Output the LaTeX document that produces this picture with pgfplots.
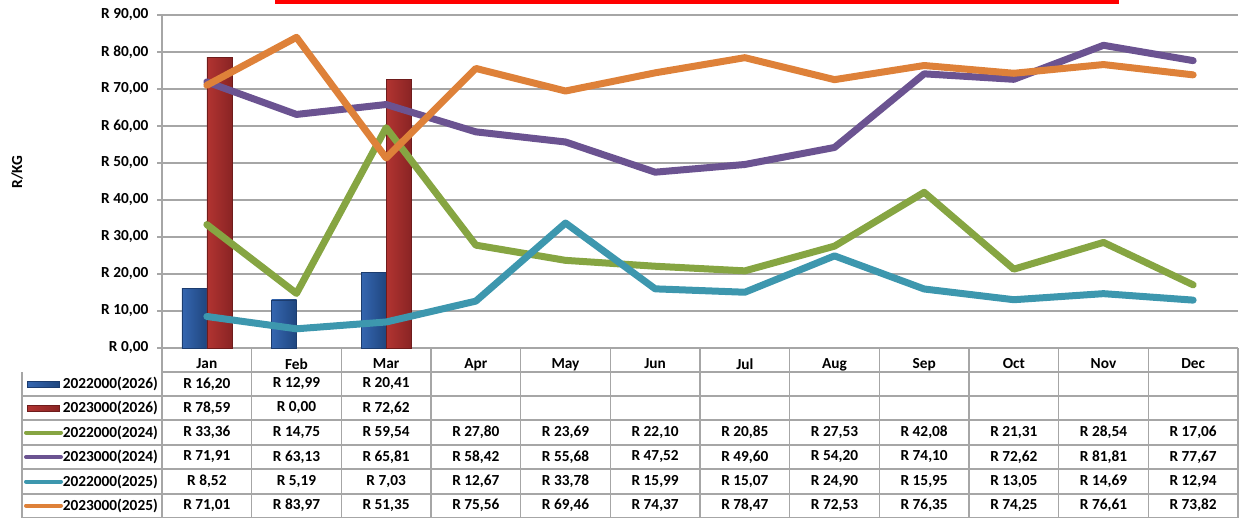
\documentclass[border=0pt]{standalone}
\usepackage{pgfplots}
\pgfplotsset{compat=1.18}
\usepackage{fontspec}
\setmainfont{Carlito}
\definecolor{cgreen}{HTML}{86A542}
\definecolor{cpurple}{HTML}{6B5391}
\definecolor{cteal}{HTML}{3D97AE}
\definecolor{corange}{HTML}{DE8139}
\definecolor{bluel}{HTML}{3566B0}
\definecolor{bluem}{HTML}{4A86D8}
\definecolor{bluer}{HTML}{1F467F}
\definecolor{blueo}{HTML}{1C3C6E}
\definecolor{redl}{HTML}{B23431}
\definecolor{redm}{HTML}{CF4843}
\definecolor{redr}{HTML}{8A2424}
\definecolor{redo}{HTML}{6E1C1C}
\definecolor{gridc}{HTML}{A6A6A6}
\newcommand{\tf}{\fontsize{11.5}{13}\selectfont\bfseries}
\begin{document}
\begin{tikzpicture}[font=\tf]
\useasboundingbox (0,0) rectangle (931.5pt,-388.5pt);
\begin{axis}[
  at={(121.5pt,-261pt)}, anchor=south west,
  width=807pt, height=249.75pt, scale only axis,
  xmin=-0.5, xmax=11.5, ymin=0, ymax=90,
  axis x line*=bottom, axis y line*=left,
  axis line style={draw=gridc, line width=0.8pt},
  ytick={0,10,...,90},
  yticklabels={{R 0,00},{R 10,00},{R 20,00},{R 30,00},{R 40,00},{R 50,00},{R 60,00},{R 70,00},{R 80,00},{R 90,00}},
  yticklabel style={font=\tf, xshift=-3pt},
  ymajorgrids, grid style={draw=gridc, line width=0.9pt},
  tick align=outside, major tick length=3.75pt,
  ytick style={draw=gridc, line width=0.8pt},
  xtick={0,...,11},
  xticklabels={Jan,Feb,Mar,Apr,May,Jun,Jul,Aug,Sep,Oct,Nov,Dec},
  xtick style={draw=none},
  xticklabel style={font=\tf, yshift=-0.5pt},
  ybar=0pt, bar width=18.75pt,
  clip=false,
  bluebar/.style={draw=blueo, line width=0.4pt, left color=bluel, middle color=bluem, right color=bluer, bar shift=-9.375pt},
  redbar/.style={draw=redo, line width=0.4pt, left color=redl, middle color=redm, right color=redr, bar shift=9.375pt},
]
\addplot[bluebar] coordinates {(0,16.20)};
\addplot[bluebar] coordinates {(1,12.99)};
\addplot[bluebar] coordinates {(2,20.41)};
\addplot[redbar] coordinates {(0,78.59)};
\addplot[redbar, draw=none] coordinates {(1,0.00)};
\addplot[redbar] coordinates {(2,72.62)};
\end{axis}
\begin{axis}[
  at={(121.5pt,-261pt)}, anchor=south west,
  width=807pt, height=249.75pt, scale only axis,
  xmin=-0.5, xmax=11.5, ymin=0, ymax=90,
  hide axis, clip=false,
  every axis plot/.append style={line width=5.25pt, line join=round, line cap=round, mark=none},
]
\addplot[cgreen] coordinates {(0,33.36) (1,14.75) (2,59.54) (3,27.80) (4,23.69) (5,22.10) (6,20.85) (7,27.53) (8,42.08) (9,21.31) (10,28.54) (11,17.06)};
\addplot[cpurple] coordinates {(0,71.91) (1,63.13) (2,65.81) (3,58.42) (4,55.68) (5,47.52) (6,49.60) (7,54.20) (8,74.10) (9,72.62) (10,81.81) (11,77.67)};
\addplot[cteal] coordinates {(0,8.52) (1,5.19) (2,7.03) (3,12.67) (4,33.78) (5,15.99) (6,15.07) (7,24.90) (8,15.95) (9,13.05) (10,14.69) (11,12.94)};
\addplot[corange] coordinates {(0,71.01) (1,83.97) (2,51.35) (3,75.56) (4,69.46) (5,74.37) (6,78.47) (7,72.53) (8,76.35) (9,74.25) (10,76.61) (11,73.82)};
\end{axis}
\begin{scope}[x=0.75pt,y=-0.75pt]
% red strip at top
\fill[red] (275,0) rectangle (1119,3.5);
% y label
\node[rotate=90] at (17,172) {R/KG};
% table grid
\begin{scope}[draw=gridc, line width=0.8pt]
\draw (162,372) -- (1238,372);
\foreach \y in {396,420,445,469,494,517.5} \draw (22,\y) -- (1238,\y);
\draw (22,372) -- (22,517.5);
\foreach \k in {0,...,12} \draw ({162+89.667*\k},348) -- ({162+89.667*\k},517.5);
\end{scope}
% legend keys
\shade[draw=blueo, line width=0.4pt, left color=bluel, middle color=bluem, right color=bluer] (27,381) rectangle (59,387.5);
\shade[draw=redo, line width=0.4pt, left color=redl, middle color=redm, right color=redr] (27,405) rectangle (59,411.5);
\draw[cgreen, line width=3pt, line cap=round] (26,432.5) -- (61,432.5);
\draw[cpurple, line width=3pt, line cap=round] (26,457) -- (61,457);
\draw[cteal, line width=3pt, line cap=round] (26,481.5) -- (61,481.5);
\draw[corange, line width=3pt, line cap=round] (26,505.5) -- (61,505.5);
\node[anchor=west, inner sep=0pt] at (62.5,384) {2022000(2026)};
\node[anchor=west, inner sep=0pt] at (62.5,408) {2023000(2026)};
\node[anchor=west, inner sep=0pt] at (62.5,432.5) {2022000(2024)};
\node[anchor=west, inner sep=0pt] at (62.5,457) {2023000(2024)};
\node[anchor=west, inner sep=0pt] at (62.5,481.5) {2022000(2025)};
\node[anchor=west, inner sep=0pt] at (62.5,505.5) {2023000(2025)};
% table values
\foreach \v [count=\i from 0] in {{16,20},{12,99},{20,41}}
  \node at ({162+89.667*(\i+0.5)},384) {R \v};
\foreach \v [count=\i from 0] in {{78,59},{0,00},{72,62}}
  \node at ({162+89.667*(\i+0.5)},408) {R \v};
\foreach \v [count=\i from 0] in {{33,36},{14,75},{59,54},{27,80},{23,69},{22,10},{20,85},{27,53},{42,08},{21,31},{28,54},{17,06}}
  \node at ({162+89.667*(\i+0.5)},432.5) {R \v};
\foreach \v [count=\i from 0] in {{71,91},{63,13},{65,81},{58,42},{55,68},{47,52},{49,60},{54,20},{74,10},{72,62},{81,81},{77,67}}
  \node at ({162+89.667*(\i+0.5)},457) {R \v};
\foreach \v [count=\i from 0] in {{8,52},{5,19},{7,03},{12,67},{33,78},{15,99},{15,07},{24,90},{15,95},{13,05},{14,69},{12,94}}
  \node at ({162+89.667*(\i+0.5)},481.5) {R \v};
\foreach \v [count=\i from 0] in {{71,01},{83,97},{51,35},{75,56},{69,46},{74,37},{78,47},{72,53},{76,35},{74,25},{76,61},{73,82}}
  \node at ({162+89.667*(\i+0.5)},505.5) {R \v};
\end{scope}
\end{tikzpicture}
\end{document}
